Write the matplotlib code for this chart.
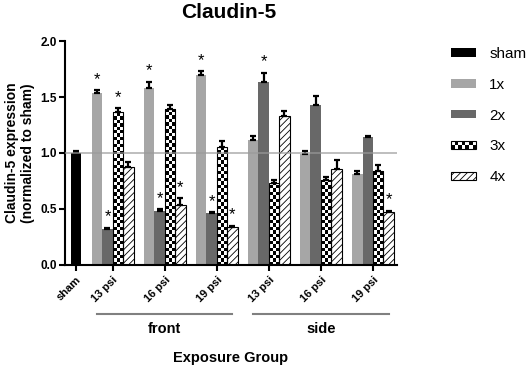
import numpy as np
import matplotlib
matplotlib.use("Agg")
import matplotlib.pyplot as plt
from matplotlib.patches import Rectangle, Patch
from matplotlib.legend_handler import HandlerBase
from matplotlib.ticker import FormatStrFormatter

plt.rcParams['font.family'] = ['Liberation Sans', 'DejaVu Sans']
plt.rcParams['hatch.linewidth'] = 0.6

# data
groups = ['13 psi', '16 psi', '19 psi', '13 psi', '16 psi', '19 psi']
series = ['1x', '2x', '3x', '4x']
sham_val, sham_err = 1.00, 0.02
vals_1x = [1.54, 1.58, 1.70, 1.12, 0.99, 0.81]
vals_2x = [0.32, 0.48, 0.46, 1.64, 1.43, 1.14]
vals_3x = [1.37, 1.39, 1.05, 0.73, 0.76, 0.84]
vals_4x = [0.87, 0.53, 0.34, 1.33, 0.86, 0.47]
err_1x = [0.02, 0.06, 0.03, 0.035, 0.03, 0.03]
err_2x = [0.01, 0.015, 0.01, 0.08, 0.08, 0.01]
err_3x = [0.03, 0.04, 0.06, 0.025, 0.025, 0.05]
err_4x = [0.045, 0.065, 0.01, 0.045, 0.075, 0.012]
# significance stars: (group index, series index)
stars = [(0, 0), (0, 1), (0, 2), (1, 0), (1, 1), (1, 3),
         (2, 0), (2, 1), (2, 3), (3, 1), (5, 3)]

vals = [vals_1x, vals_2x, vals_3x, vals_4x]
errs = [err_1x, err_2x, err_3x, err_4x]


class HandlerChecker(HandlerBase):
    def create_artists(self, legend, orig_handle, xdescent, ydescent,
                       width, height, fontsize, trans):
        arts = []
        ncol, nrow = 7, 2
        cw, ch = width / ncol, height / nrow
        for i in range(ncol):
            for j in range(nrow):
                c = 'black' if (i + j) % 2 == 0 else 'white'
                arts.append(Rectangle((-xdescent + i * cw, -ydescent + j * ch), cw, ch,
                                      facecolor=c, edgecolor='none', transform=trans))
        arts.append(Rectangle((-xdescent, -ydescent), width, height, facecolor='none',
                              edgecolor='black', lw=0.8, transform=trans))
        return arts


fig = plt.figure(figsize=(5.29, 3.69), dpi=100)
ax = fig.add_axes([0.123, 0.283, 0.627, 0.605])

width = 0.2
gx = np.arange(1, 7)
sham_x = 0.29

ax.bar(sham_x, sham_val, width, color='black', zorder=2)
ax.errorbar(sham_x, sham_val, yerr=[[0], [sham_err]], fmt='none', ecolor='black',
            elinewidth=1.6, capsize=2.2, capthick=1.6, zorder=4)

styles = [dict(color='#a6a6a6'),
          dict(color='#686868'),
          dict(facecolor='none', edgecolor='black', linewidth=0.8),
          dict(facecolor='white', edgecolor='black', linewidth=0.8, hatch='/////')]

for k in range(4):
    xs = gx + (k - 1.5) * width
    bars = ax.bar(xs, vals[k], width, zorder=3 if k == 2 else 2, **styles[k])
    if k == 2:
        cell_h = 0.031
        for p in bars:
            x0, w, h = p.get_x(), p.get_width(), p.get_height()
            nrows = int(np.ceil(h / cell_h))
            img = np.indices((nrows, 3)).sum(0) % 2
            im = ax.imshow(img, cmap='gray', extent=(x0, x0 + w, 0, nrows * cell_h),
                           origin='lower', aspect='auto', interpolation='nearest', zorder=2)
            im.set_clip_path(p)
    ax.errorbar(xs, vals[k], yerr=[np.zeros(6), errs[k]], fmt='none', ecolor='black',
                elinewidth=1.6, capsize=2.2, capthick=1.6, zorder=4)

for g, k in stars:
    x = gx[g] + (k - 1.5) * width
    ax.text(x, vals[k][g] + errs[k][g] + 0.03, '*', ha='center', va='bottom',
            fontsize=12)

ax.axhline(1.0, color='#9a9a9a', lw=1.2, alpha=0.75, zorder=5)

ax.set_xlim(0.085, 6.457)
ax.set_ylim(0, 2.0)
ax.set_yticks([0, 0.5, 1.0, 1.5, 2.0])
ax.yaxis.set_major_formatter(FormatStrFormatter('%.1f'))
ax.set_xticks([sham_x] + list(gx))
ax.set_xticklabels(['sham'] + groups, rotation=45, ha='right', va='top',
                   rotation_mode='anchor', fontsize=8, fontweight='bold')
for lab in ax.get_yticklabels():
    lab.set_fontweight('bold')
    lab.set_fontsize(8.5)

for s in ['top', 'right']:
    ax.spines[s].set_visible(False)
for s in ['left', 'bottom']:
    ax.spines[s].set_linewidth(1.5)
ax.tick_params(width=1.5, length=4, direction='out')
ax.tick_params(axis='y', pad=2)

ax.set_ylabel('Claudin-5 expression\n(normalized to sham)', fontsize=10,
              fontweight='bold')
ax.yaxis.set_label_coords(-0.09, 0.5)

# group brackets under tick labels
for c, name in [(2, 'front'), (5, 'side')]:
    ax.plot([c - 1.3, c + 1.3], [-0.222, -0.222], color='#808080', lw=1.5,
            transform=ax.get_xaxis_transform(), clip_on=False)
    ax.text(c, -0.289, name, ha='center', va='center', fontsize=10.5,
            fontweight='bold', transform=ax.get_xaxis_transform())

ax.text(0.5, -0.419, 'Exposure Group', ha='center', va='center', fontsize=10.5,
        fontweight='bold', transform=ax.transAxes)

fig.text(229 / 529, 1 - 12 / 369, 'Claudin-5', ha='center', va='center',
         fontsize=15, fontweight='bold')

handles = [Patch(facecolor='black'),
           Patch(facecolor='#a6a6a6'),
           Patch(facecolor='#686868'),
           Patch(facecolor='none'),
           Patch(facecolor='white', edgecolor='black', linewidth=0.8, hatch='/////')]
fig.legend(handles, ['sham'] + series, loc='upper left',
           bbox_to_anchor=(451 / 529, 1 - 47 / 369), frameon=False, fontsize=11,
           handlelength=1.65, handleheight=0.47, handletextpad=0.85,
           labelspacing=1.1, borderpad=0, borderaxespad=0,
           handler_map={handles[3]: HandlerChecker()})

fig.savefig('out.png', dpi=100)
